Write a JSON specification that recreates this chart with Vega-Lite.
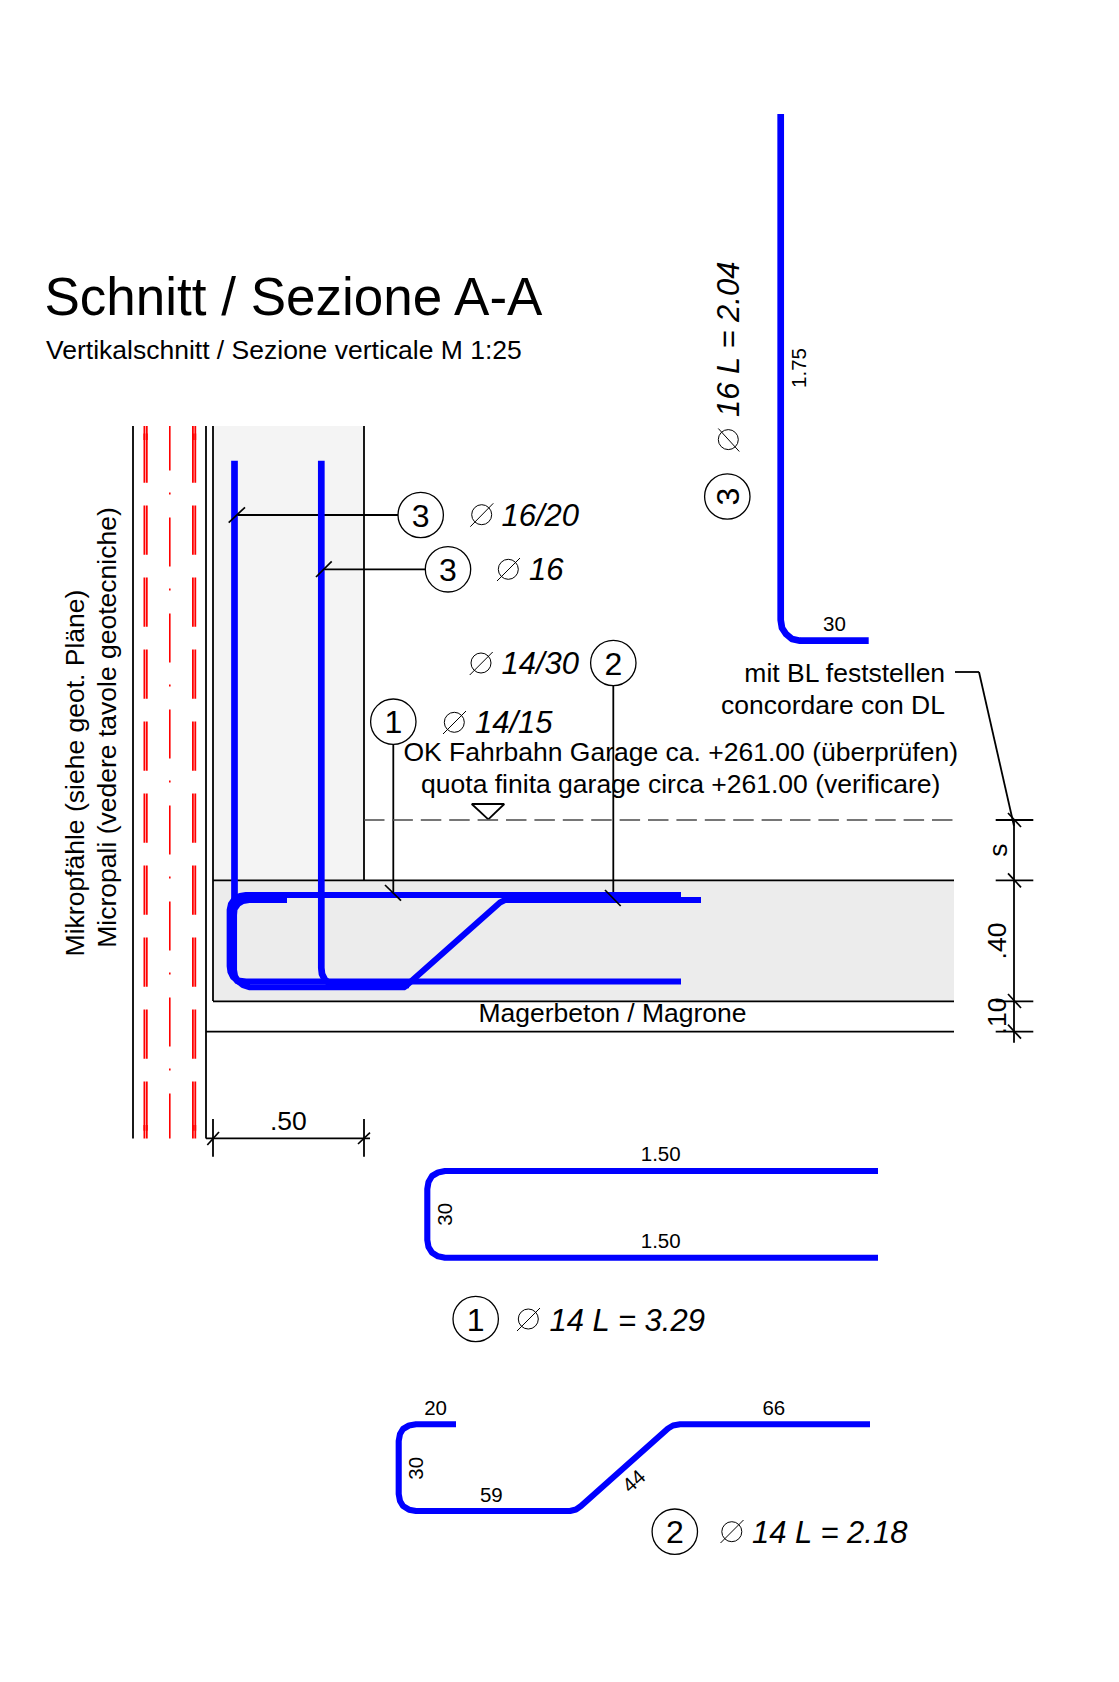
{"$schema":"https://vega.github.io/schema/vega-lite/v6.json","width":1119,"height":1682,"autosize":{"type":"fit","contains":"padding"},"padding":0,"background":"white","config":{"view":{"stroke":null}},
"encoding":{"x":{"field":"x","type":"quantitative","axis":null,"scale":{"domain":[0,1119],"nice":false,"zero":false}},"y":{"field":"y","type":"quantitative","axis":null,"scale":{"domain":[1682,0],"nice":false,"zero":false}}},
"datasets":{
"column":[{"x":213,"x2":364,"y":426,"y2":880}],
"slab":[{"x":213,"x2":954,"y":880,"y2":1001}],
"black":[
{"x":133,"y":426,"x2":133,"y2":1138.5},{"x":206,"y":426,"x2":206,"y2":1138.5},{"x":213,"y":426,"x2":213,"y2":1001},{"x":364,"y":426,"x2":364,"y2":880},
{"x":213,"y":880.3,"x2":954,"y2":880.3},{"x":213,"y":1001.3,"x2":954,"y2":1001.3},{"x":206,"y":1031.7,"x2":954,"y2":1031.7},
{"x":234,"y":515,"x2":398,"y2":515},{"x":321,"y":569.3,"x2":425.3,"y2":569.3},{"x":613.3,"y":686,"x2":613.3,"y2":897},{"x":393.3,"y":744.5,"x2":393.3,"y2":893},
{"x":1014,"y":820,"x2":1014,"y2":1042.7},{"x":995.7,"y":820,"x2":1033.3,"y2":820},{"x":995.7,"y":880.3,"x2":1033.3,"y2":880.3},{"x":995.7,"y":1001.3,"x2":1033.3,"y2":1001.3},{"x":995.7,"y":1031.7,"x2":1033.3,"y2":1031.7},
{"x":955,"y":672,"x2":979,"y2":672},{"x":979,"y":672,"x2":1014,"y2":826},
{"x":206,"y":1138.3,"x2":370,"y2":1138.3},{"x":213,"y":1119,"x2":213,"y2":1156.7},{"x":364,"y":1119,"x2":364,"y2":1156.7},
{"x":471.7,"y":804,"x2":504.3,"y2":804},{"x":471.7,"y":804,"x2":488.3,"y2":819.3},{"x":504.3,"y":804,"x2":488.3,"y2":819.3}],
"ticks":[
{"x":228.7,"y":522.7,"x2":245,"y2":507.3},{"x":316,"y":577,"x2":331.7,"y2":561.3},{"x":605,"y":890,"x2":620.7,"y2":906},{"x":385,"y":885,"x2":401,"y2":900.7},
{"x":1008,"y":813,"x2":1021,"y2":827},{"x":1008,"y":873.3,"x2":1021,"y2":887.3},{"x":1008,"y":994,"x2":1021,"y2":1008},{"x":1008,"y":1024.7,"x2":1021,"y2":1038.7},
{"x":207.3,"y":1145,"x2":219,"y2":1132},{"x":358,"y":1144,"x2":370,"y2":1132.7}],
"dashed":[{"x":364,"y":820,"x2":954,"y2":820}],
"redDash":[{"x":144.4,"y":433.5,"x2":144.4,"y2":1138.5},{"x":146.8,"y":433.5,"x2":146.8,"y2":1138.5},{"x":192.9,"y":433.5,"x2":192.9,"y2":1138.5},{"x":195.3,"y":433.5,"x2":195.3,"y2":1138.5}],
"redEnds":[{"x":144.4,"y":426,"x2":144.4,"y2":440},{"x":146.8,"y":426,"x2":146.8,"y2":440},{"x":192.9,"y":426,"x2":192.9,"y2":440},{"x":195.3,"y":426,"x2":195.3,"y2":440},
{"x":144.4,"y":1125,"x2":144.4,"y2":1138.5},{"x":146.8,"y":1125,"x2":146.8,"y2":1138.5},{"x":192.9,"y":1125,"x2":192.9,"y2":1138.5},{"x":195.3,"y":1125,"x2":195.3,"y2":1138.5}],
"redCenter":[{"x":169.8,"y":426,"x2":169.8,"y2":1138.5}],
"blue16":[
{"id":"v1","n":1,"x":234.5,"y":460.7},{"id":"v1","n":2,"x":234.5,"y":905},
{"id":"b3","n":1,"x":321.3,"y":460.7},{"id":"b3","n":2,"x":321.3,"y":968},{"id":"b3","n":3,"x":322,"y":974},{"id":"b3","n":4,"x":325,"y":980},{"id":"b3","n":5,"x":330,"y":983.5},{"id":"b3","n":6,"x":337,"y":985},{"id":"b3","n":7,"x":409,"y":985},
{"id":"d3","n":1,"x":780.7,"y":114},{"id":"d3","n":2,"x":780.7,"y":620},{"id":"d3","n":3,"x":782,"y":628},{"id":"d3","n":4,"x":786,"y":634},{"id":"d3","n":5,"x":792,"y":639},{"id":"d3","n":6,"x":800,"y":640.7},{"id":"d3","n":7,"x":868.7,"y":640.7}],
"blue14":[
{"id":"b1","n":1,"x":681,"y":895},{"id":"b1","n":2,"x":246,"y":895},{"id":"b1","n":3,"x":240,"y":896},{"id":"b1","n":4,"x":234.5,"y":899},{"id":"b1","n":5,"x":231,"y":904},{"id":"b1","n":6,"x":229.7,"y":910},{"id":"b1","n":7,"x":229.7,"y":966},{"id":"b1","n":8,"x":230.5,"y":972},{"id":"b1","n":9,"x":233,"y":977},{"id":"b1","n":10,"x":238,"y":980.5},{"id":"b1","n":11,"x":246,"y":981.5},{"id":"b1","n":12,"x":681,"y":981.5},
{"id":"b2","n":1,"x":287,"y":900},{"id":"b2","n":2,"x":249,"y":900},{"id":"b2","n":3,"x":243,"y":901},{"id":"b2","n":4,"x":238,"y":904},{"id":"b2","n":5,"x":234.5,"y":909},{"id":"b2","n":6,"x":234,"y":915},{"id":"b2","n":7,"x":234,"y":970},{"id":"b2","n":8,"x":235,"y":976},{"id":"b2","n":9,"x":238,"y":981},{"id":"b2","n":10,"x":243,"y":985},{"id":"b2","n":11,"x":250,"y":987.3},{"id":"b2","n":12,"x":404,"y":987.3},{"id":"b2","n":13,"x":407,"y":985},{"id":"b2","n":14,"x":500,"y":902.5},{"id":"b2","n":15,"x":505,"y":900},{"id":"b2","n":16,"x":701,"y":900},
{"id":"b4","n":1,"x":231.5,"y":966},{"id":"b4","n":2,"x":232.5,"y":975},{"id":"b4","n":3,"x":237,"y":981},{"id":"b4","n":4,"x":246,"y":984},
{"id":"b5","n":1,"x":246,"y":897.5},{"id":"b5","n":2,"x":238,"y":900},{"id":"b5","n":3,"x":233,"y":906},{"id":"b5","n":4,"x":232,"y":912},
{"id":"d1","n":1,"x":878,"y":1171},{"id":"d1","n":2,"x":445,"y":1171},{"id":"d1","n":3,"x":438,"y":1172.5},{"id":"d1","n":4,"x":432,"y":1176},{"id":"d1","n":5,"x":428.5,"y":1182},{"id":"d1","n":6,"x":427.3,"y":1189},{"id":"d1","n":7,"x":427.3,"y":1240},{"id":"d1","n":8,"x":428.5,"y":1247},{"id":"d1","n":9,"x":432,"y":1252.7},{"id":"d1","n":10,"x":438,"y":1256.3},{"id":"d1","n":11,"x":445,"y":1257.7},{"id":"d1","n":12,"x":878,"y":1257.7},
{"id":"d2","n":1,"x":456,"y":1424.3},{"id":"d2","n":2,"x":416,"y":1424.3},{"id":"d2","n":3,"x":409,"y":1425.5},{"id":"d2","n":4,"x":403,"y":1429},{"id":"d2","n":5,"x":400,"y":1434},{"id":"d2","n":6,"x":398.7,"y":1441},{"id":"d2","n":7,"x":398.7,"y":1494},{"id":"d2","n":8,"x":400,"y":1501},{"id":"d2","n":9,"x":403,"y":1506},{"id":"d2","n":10,"x":409,"y":1509.7},{"id":"d2","n":11,"x":416,"y":1511},{"id":"d2","n":12,"x":570,"y":1511},{"id":"d2","n":13,"x":576,"y":1509.5},{"id":"d2","n":14,"x":581,"y":1506},{"id":"d2","n":15,"x":668,"y":1428.5},{"id":"d2","n":16,"x":673,"y":1425.5},{"id":"d2","n":17,"x":680,"y":1424.3},{"id":"d2","n":18,"x":870,"y":1424.3}],
"bubbles":[{"x":420.7,"y":515},{"x":448,"y":569.3},{"x":613.3,"y":663},{"x":393.3,"y":721.7},{"x":475.7,"y":1319},{"x":674.8,"y":1531.7},{"x":727.3,"y":496.5}],
"bubbleDigits":[{"x":420.7,"y":526.5,"t":"3"},{"x":448,"y":580.8,"t":"3"},{"x":613.3,"y":674.5,"t":"2"},{"x":393.3,"y":733.2,"t":"1"},{"x":475.7,"y":1330.5,"t":"1"},{"x":674.8,"y":1543.2,"t":"2"}],
"bubbleRot":[{"x":738.8,"y":496.5,"t":"3"}],
"dia":[{"x":481.7,"y":514.7},{"x":508.3,"y":569.3},{"x":481,"y":663},{"x":454.3,"y":722.3},{"x":528.3,"y":1319},{"x":731.8,"y":1531.7},{"x":728.3,"y":439.6}],
"diaSlash":[{"x":470.3,"y":526.7,"x2":493.3,"y2":503.3},{"x":497,"y":581,"x2":520,"y2":558},{"x":469.7,"y":675,"x2":492.7,"y2":652},{"x":443,"y":734,"x2":466,"y2":711},{"x":517,"y":1331,"x2":540,"y2":1308},{"x":720.5,"y":1543,"x2":743.5,"y2":1520},{"x":739.3,"y":451.5,"x2":718.3,"y2":428.5}],
"italic":[{"x":501.5,"y":526,"t":"16/20"},{"x":529,"y":580,"t":"16"},{"x":501.5,"y":674,"t":"14/30"},{"x":475,"y":732.7,"t":"14/15"},{"x":549.5,"y":1330.5,"t":"14 L = 3.29"},{"x":752,"y":1543,"t":"14 L = 2.18"}],
"italicRot":[{"x":738.7,"y":417,"t":"16 L = 2.04"}],
"title":[{"x":44.5,"y":315,"t":"Schnitt / Sezione A-A"}],
"subtitle":[{"x":46,"y":358.8,"t":"Vertikalschnitt / Sezione verticale M 1:25"}],
"labels":[{"x":288.3,"y":1130,"t":".50"},{"x":612.5,"y":1022,"t":"Magerbeton / Magrone"},{"x":680.7,"y":761,"t":"OK Fahrbahn Garage ca. +261.00 (überprüfen)"},{"x":680.7,"y":792.7,"t":"quota finita garage circa +261.00 (verificare)"},{"x":844.7,"y":682.3,"t":"mit BL feststellen"},{"x":833,"y":714,"t":"concordare con DL"}],
"labelsRot":[{"x":84,"y":773,"t":"Mikropfähle (siehe geot. Pläne)"},{"x":116,"y":727.5,"t":"Micropali (vedere tavole geotecniche)"},{"x":1007,"y":850,"t":"s"},{"x":1006.3,"y":941,"t":".40"},{"x":1006.3,"y":1016,"t":".10"}],
"small":[{"x":834.5,"y":631,"t":"30"},{"x":660.7,"y":1161,"t":"1.50"},{"x":660.7,"y":1248,"t":"1.50"},{"x":435.6,"y":1415,"t":"20"},{"x":773.8,"y":1415,"t":"66"},{"x":491.3,"y":1501.7,"t":"59"}],
"smallRot":[{"x":805.5,"y":368,"t":"1.75"},{"x":451.5,"y":1214.3,"t":"30"},{"x":423,"y":1468.3,"t":"30"}],
"smallDiag":[{"x":634.5,"y":1481.7,"t":"44"}]
},
"layer":[
{"data":{"name":"column"},"mark":{"type":"rect","color":"#f4f4f4"},"encoding":{"x2":{"field":"x2"},"y2":{"field":"y2"}}},
{"data":{"name":"slab"},"mark":{"type":"rect","color":"#ececec"},"encoding":{"x2":{"field":"x2"},"y2":{"field":"y2"}}},
{"data":{"name":"black"},"mark":{"type":"rule","color":"#000000","strokeWidth":1.8},"encoding":{"x2":{"field":"x2"},"y2":{"field":"y2"}}},
{"data":{"name":"dashed"},"mark":{"type":"rule","color":"#4a4a4a","strokeWidth":1.5,"strokeDash":[20.5,7.9]},"encoding":{"x2":{"field":"x2"},"y2":{"field":"y2"}}},
{"data":{"name":"redDash"},"mark":{"type":"rule","color":"#ff0000","strokeWidth":1.8,"strokeDash":[49.3,22.7]},"encoding":{"x2":{"field":"x2"},"y2":{"field":"y2"}}},
{"data":{"name":"redEnds"},"mark":{"type":"rule","color":"#ff0000","strokeWidth":1.8},"encoding":{"x2":{"field":"x2"},"y2":{"field":"y2"}}},
{"data":{"name":"redCenter"},"mark":{"type":"rule","color":"#ff0000","strokeWidth":1.6,"strokeDash":[49,22,2,23],"strokeDashOffset":4.5},"encoding":{"x2":{"field":"x2"},"y2":{"field":"y2"}}},
{"data":{"name":"blue16"},"mark":{"type":"line","color":"#0000ff","strokeWidth":6.7,"strokeJoin":"round"},"encoding":{"detail":{"field":"id"},"order":{"field":"n"}}},
{"data":{"name":"blue14"},"mark":{"type":"line","color":"#0000ff","strokeWidth":6.1,"strokeJoin":"round"},"encoding":{"detail":{"field":"id"},"order":{"field":"n"}}},
{"data":{"name":"ticks"},"mark":{"type":"rule","color":"#000000","strokeWidth":1.7},"encoding":{"x2":{"field":"x2"},"y2":{"field":"y2"}}},
{"data":{"name":"bubbles"},"mark":{"type":"point","shape":"circle","size":2061,"filled":false,"color":"#000000","strokeWidth":1.3,"opacity":1},"encoding":{}},
{"data":{"name":"dia"},"mark":{"type":"point","shape":"circle","size":400,"filled":false,"color":"#000000","strokeWidth":1,"opacity":1},"encoding":{}},
{"data":{"name":"diaSlash"},"mark":{"type":"rule","color":"#000000","strokeWidth":1},"encoding":{"x2":{"field":"x2"},"y2":{"field":"y2"}}},
{"data":{"name":"bubbleDigits"},"mark":{"type":"text","font":"Liberation Sans","fontSize":32,"align":"center","baseline":"alphabetic","color":"#000000"},"encoding":{"text":{"field":"t"}}},
{"data":{"name":"bubbleRot"},"mark":{"type":"text","font":"Liberation Sans","fontSize":32,"align":"center","baseline":"alphabetic","angle":270,"color":"#000000"},"encoding":{"text":{"field":"t"}}},
{"data":{"name":"italic"},"mark":{"type":"text","font":"Liberation Sans","fontStyle":"italic","fontSize":31,"align":"left","baseline":"alphabetic","color":"#000000"},"encoding":{"text":{"field":"t"}}},
{"data":{"name":"italicRot"},"mark":{"type":"text","font":"Liberation Sans","fontStyle":"italic","fontSize":31,"align":"left","baseline":"alphabetic","angle":270,"color":"#000000"},"encoding":{"text":{"field":"t"}}},
{"data":{"name":"title"},"mark":{"type":"text","font":"Liberation Sans","fontSize":53,"align":"left","baseline":"alphabetic","color":"#000000"},"encoding":{"text":{"field":"t"}}},
{"data":{"name":"subtitle"},"mark":{"type":"text","font":"Liberation Sans","fontSize":26.5,"align":"left","baseline":"alphabetic","color":"#000000"},"encoding":{"text":{"field":"t"}}},
{"data":{"name":"labels"},"mark":{"type":"text","font":"Liberation Sans","fontSize":26.5,"align":"center","baseline":"alphabetic","color":"#000000"},"encoding":{"text":{"field":"t"}}},
{"data":{"name":"labelsRot"},"mark":{"type":"text","font":"Liberation Sans","fontSize":26.5,"align":"center","baseline":"alphabetic","angle":270,"color":"#000000"},"encoding":{"text":{"field":"t"}}},
{"data":{"name":"small"},"mark":{"type":"text","font":"Liberation Sans","fontSize":20.5,"align":"center","baseline":"alphabetic","color":"#000000"},"encoding":{"text":{"field":"t"}}},
{"data":{"name":"smallRot"},"mark":{"type":"text","font":"Liberation Sans","fontSize":20.5,"align":"center","baseline":"alphabetic","angle":270,"color":"#000000"},"encoding":{"text":{"field":"t"}}},
{"data":{"name":"smallDiag"},"mark":{"type":"text","font":"Liberation Sans","fontSize":20.5,"align":"center","baseline":"middle","angle":318,"color":"#000000"},"encoding":{"text":{"field":"t"}}}
]}
